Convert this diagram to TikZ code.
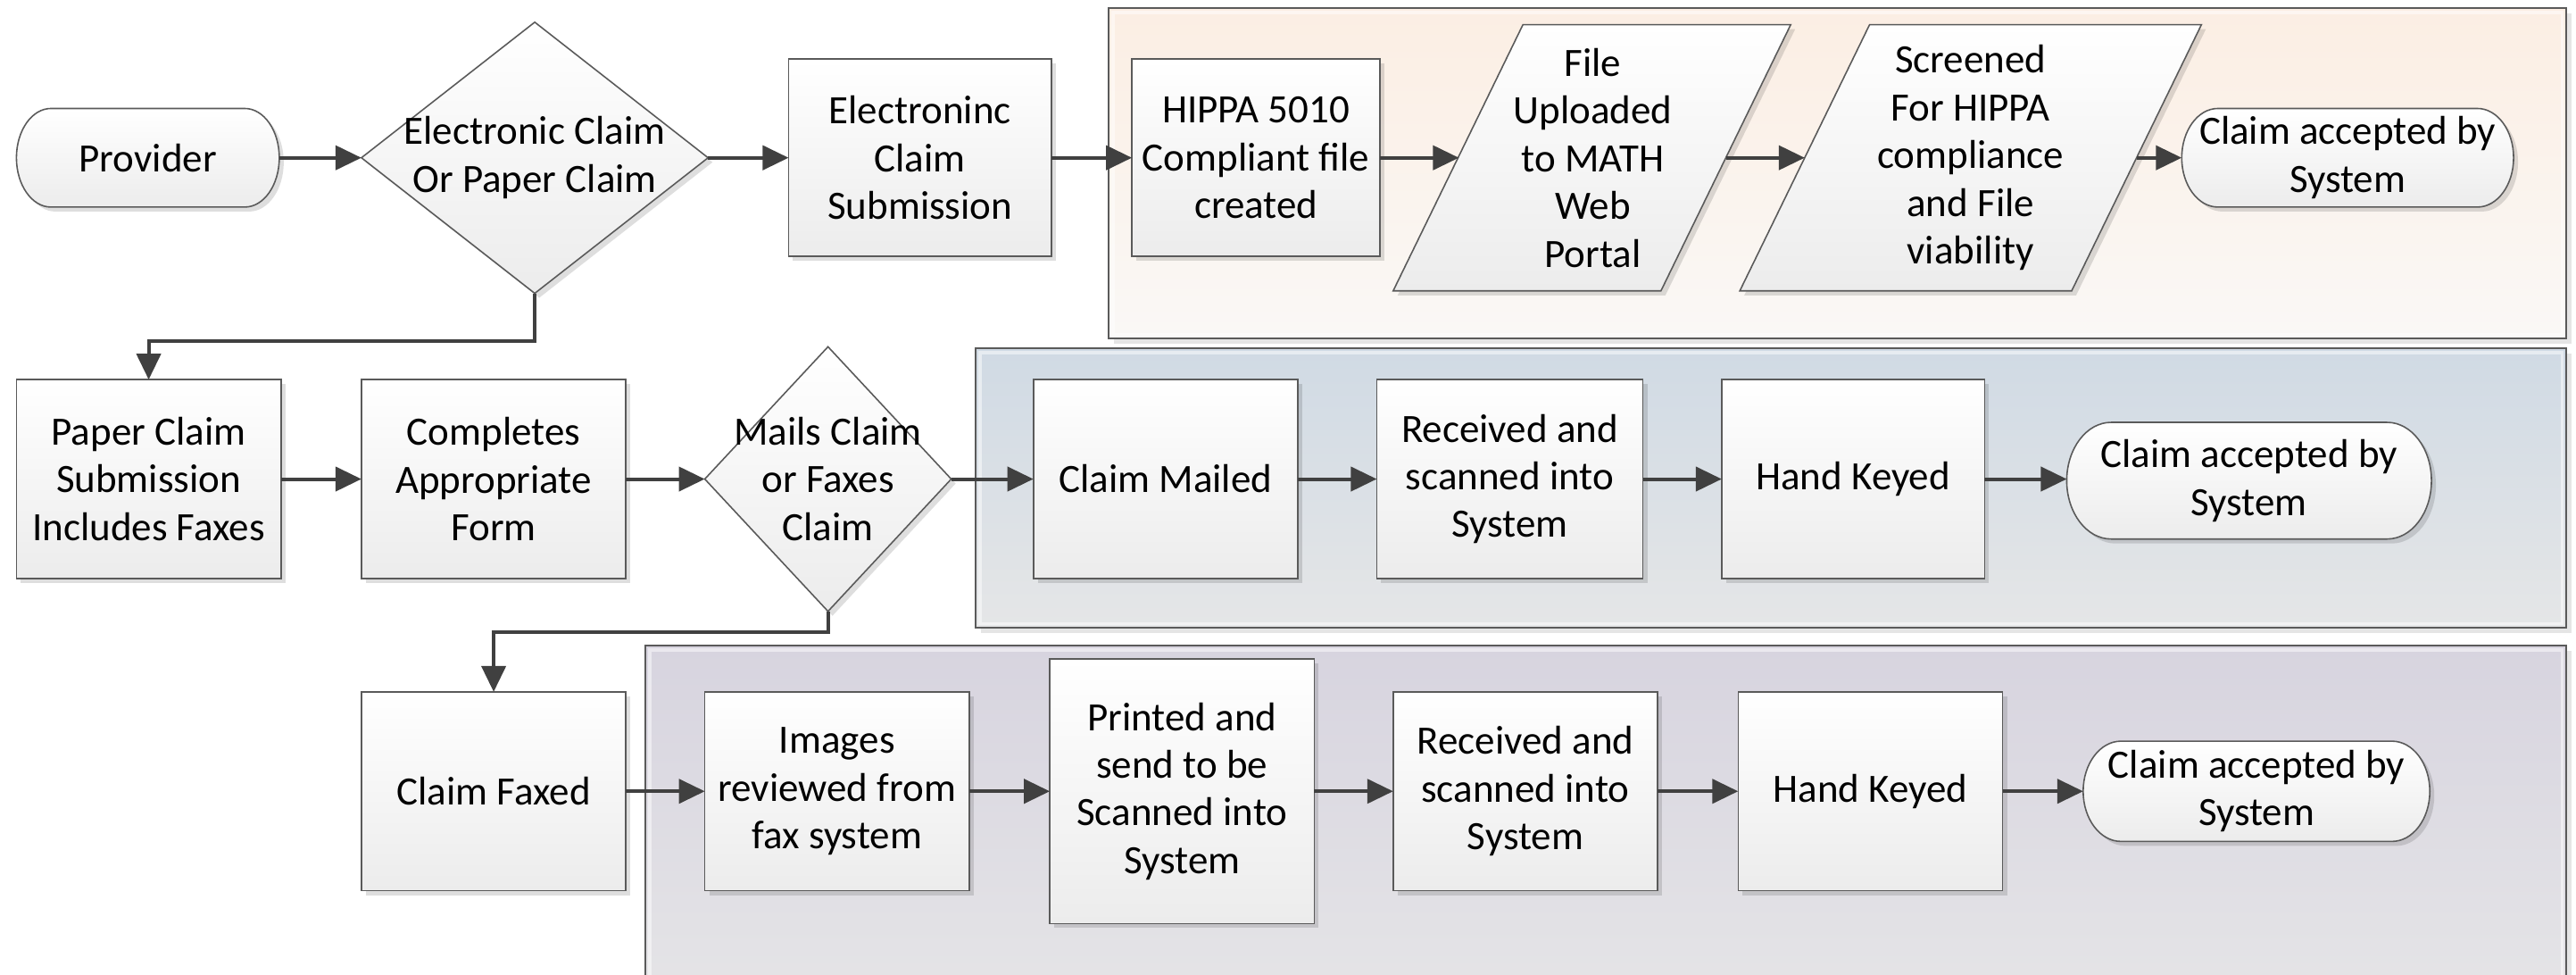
\documentclass[tikz,border=0pt]{standalone}
\usepackage{fontspec}
\setmainfont{Carlito}
\usetikzlibrary{arrows.meta,shadows,shapes.geometric,calc}
\definecolor{edgec}{HTML}{5A5A5A}
\definecolor{connc}{HTML}{404040}
\definecolor{shadebot}{HTML}{ECECEC}
\definecolor{orangetop}{HTML}{FBEEE3}
\definecolor{orangebot}{HTML}{FAF8F6}
\definecolor{bluetop}{HTML}{D0DAE4}
\definecolor{bluebot}{HTML}{E5E6E7}
\definecolor{purpletop}{HTML}{D7D4DF}
\definecolor{purplebot}{HTML}{E7E7E8}
\newcommand\U{0.018406cm}
\newcommand\fs{\fontsize{12.8pt}{15.2pt}\selectfont}
\tikzset{
  boxsh/.style={drop shadow={shadow xshift=0.05cm,shadow yshift=-0.05cm,fill=black,opacity=0.13}},
  panelsh/.style={drop shadow={shadow xshift=0.06cm,shadow yshift=-0.06cm,fill=black,opacity=0.10}},
  procbox/.style={rectangle, draw=edgec, line width=0.45pt, top color=white, bottom color=shadebot,
    boxsh, align=center, inner sep=0pt, outer sep=0pt, font=\fs},
  decbox/.style={diamond, draw=edgec, line width=0.45pt, top color=white, bottom color=shadebot,
    boxsh, inner sep=0pt, outer sep=0pt},
  shapest/.style={draw=edgec, line width=0.45pt, top color=white, bottom color=shadebot, boxsh},
  lbl/.style={rectangle, align=center, inner sep=0pt, outer sep=0pt, font=\fs},
  panel/.style={draw=edgec, line width=0.6pt, panelsh},
  conn/.style={draw=connc, line width=1.15pt, -{Triangle[length=0.29cm,width=0.27cm]}},
}
% pill (terminator) outline: cx, cy, w, h, rx
\newcommand\pillpath[5]{%
  \pgfmathsetmacro\pilL{#1-#3/2}\pgfmathsetmacro\pilR{#1+#3/2}%
  \pgfmathsetmacro\pilT{#2-#4/2}\pgfmathsetmacro\pilB{#2+#4/2}%
  \pgfmathsetmacro\pilX{#5}\pgfmathsetmacro\pilY{#4/2}%
  \path[shapest] (\pilL+\pilX,\pilT) -- (\pilR-\pilX,\pilT)
    .. controls (\pilR-0.448*\pilX,\pilT) and (\pilR,#2-0.552*\pilY) .. (\pilR,#2)
    .. controls (\pilR,#2+0.552*\pilY) and (\pilR-0.448*\pilX,\pilB) .. (\pilR-\pilX,\pilB)
    -- (\pilL+\pilX,\pilB)
    .. controls (\pilL+0.448*\pilX,\pilB) and (\pilL,#2+0.552*\pilY) .. (\pilL,#2)
    .. controls (\pilL,#2-0.552*\pilY) and (\pilL+0.448*\pilX,\pilT) .. cycle;}
\begin{document}
\begin{tikzpicture}[x=0.018406cm,y=-0.018406cm]
\useasboundingbox (0,0) rectangle (1568,593);
\clip (0,0) rectangle (1568,593);
\fill[white] (0,0) rectangle (1568,593);

% ---------- background panels ----------
\path[panel, top color=orangetop, bottom color=orangebot] (675,5) rectangle (1562,206);
\draw[white, opacity=0.5, line width=1pt] (677.5,7.5) rectangle (1559.5,203.5);
\path[panel, top color=bluetop, bottom color=bluebot] (594,212) rectangle (1562,382);
\draw[white, opacity=0.5, line width=1pt] (596.5,214.5) rectangle (1559.5,379.5);
\path[panel, top color=purpletop, bottom color=purplebot] (393,393) rectangle (1562,640);
\draw[white, opacity=0.5, line width=1pt] (395.5,395.5) rectangle (1559.5,637.5);

% ---------- row 1 ----------
\pillpath{90}{96}{160}{60}{21}
\node[lbl, minimum width=160*\U, minimum height=60*\U] (prov) at (90,96) {Provider};

\node[decbox, minimum width=211*\U, minimum height=165*\U] (d1) at (325.5,96) {};
\node[lbl] (d1t) at (d1) {Electronic Claim\\Or Paper Claim};

\node[procbox, minimum width=160*\U, minimum height=120*\U] (ecs) at (560,96) {Electroninc\\Claim\\Submission};
\node[procbox, minimum width=151*\U, minimum height=120*\U] (hippa) at (764.5,96) {HIPPA 5010\\Compliant file\\created};

\path[shapest] (927,15) -- (1090,15) -- (1011,177) -- (848,177) -- cycle;
\node[lbl, minimum width=163*\U, minimum height=162*\U] (fu) at (969.5,96) {File\\Uploaded\\to MATH\\Web\\Portal};

\path[shapest] (1138,15) -- (1340,15) -- (1261,177) -- (1059,177) -- cycle;
\node[lbl, minimum width=202*\U, minimum height=162*\U] (scr) at (1199.5,96) {Screened\\For HIPPA\\compliance\\and File\\viability};

\pillpath{1429}{96}{202}{60}{22}
\node[lbl, minimum width=202*\U, minimum height=60*\U] (cab1) at (1429,96) {Claim accepted by\\System};

% ---------- row 2 ----------
\node[procbox, minimum width=161*\U, minimum height=121*\U] (pcs) at (90.5,291.5) {Paper Claim\\Submission\\Includes Faxes};
\node[procbox, minimum width=161*\U, minimum height=121*\U] (caf) at (300.5,291.5) {Completes\\Appropriate\\Form};

\node[decbox, minimum width=150*\U, minimum height=161*\U] (d2) at (504,291.5) {};
\node[lbl] (d2t) at (d2) {Mails Claim\\or Faxes\\Claim};

\node[procbox, minimum width=161*\U, minimum height=121*\U] (cm) at (709.5,291.5) {Claim Mailed};
\node[procbox, minimum width=162*\U, minimum height=121*\U] (ras) at (919,291.5) {Received and\\scanned into\\System};
\node[procbox, minimum width=160*\U, minimum height=121*\U] (hk) at (1128,291.5) {Hand Keyed};

\pillpath{1369}{292.5}{222}{71}{27}
\node[lbl, minimum width=222*\U, minimum height=71*\U] (cab2) at (1369,292.5) {Claim accepted by\\System};

% ---------- row 3 ----------
\node[procbox, minimum width=161*\U, minimum height=121*\U] (cf) at (300.5,481.5) {Claim Faxed};
\node[procbox, minimum width=161*\U, minimum height=121*\U] (irf) at (509.5,481.5) {Images\\reviewed from\\fax system};
\node[procbox, minimum width=161*\U, minimum height=161*\U] (pss) at (719.5,481.5) {Printed and\\send to be\\Scanned into\\System};
\node[procbox, minimum width=161*\U, minimum height=121*\U] (ras2) at (928.5,481.5) {Received and\\scanned into\\System};
\node[procbox, minimum width=161*\U, minimum height=121*\U] (hk2) at (1138.5,481.5) {Hand Keyed};

\pillpath{1373.5}{481.5}{211}{61}{23}
\node[lbl, minimum width=211*\U, minimum height=61*\U] (cab3) at (1373.5,481.5) {Claim accepted by\\System};

% ---------- connectors ----------
\draw[conn] (prov) -- (d1);
\draw[conn] (d1) -- (ecs);
\draw[conn] (ecs) -- (hippa);
\draw[conn] (hippa) -- (fu);
\draw[conn] (fu) -- (scr);
\draw[conn] (scr) -- (cab1);
\draw[conn] (d1.south) -- ++(0,29) -| (pcs.north);

\draw[conn] (pcs) -- (caf);
\draw[conn] (caf) -- (d2);
\draw[conn] (d2) -- (cm);
\draw[conn] (cm) -- (ras);
\draw[conn] (ras) -- (hk);
\draw[conn] (hk.east) -- (cab2.west |- hk.east);
\draw[conn] (d2.south) -- ++(0,12.5) -| (cf.north);

\draw[conn] (cf) -- (irf);
\draw[conn] (irf) -- (pss);
\draw[conn] (pss) -- (ras2);
\draw[conn] (ras2) -- (hk2);
\draw[conn] (hk2) -- (cab3);
\end{tikzpicture}
\end{document}
